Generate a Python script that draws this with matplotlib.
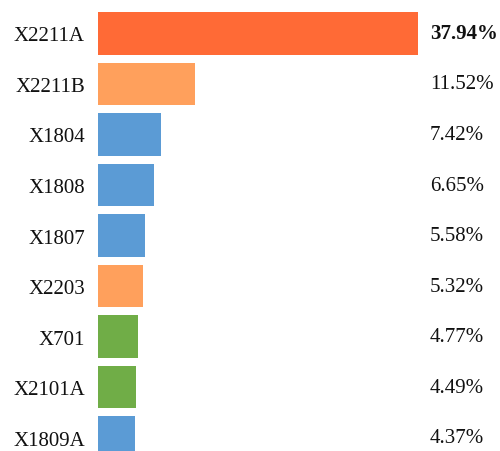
import matplotlib.pyplot as plt
from matplotlib.transforms import blended_transform_factory

names = ['X2211A', 'X2211B', 'X1804', 'X1808', 'X1807', 'X2203', 'X701', 'X2101A', 'X1809A']
shares = [37.94, 11.52, 7.42, 6.65, 5.58, 5.32, 4.77, 4.49, 4.37]
colors = ['#FF6A36', '#FFA05C', '#5B9BD5', '#5B9BD5', '#5B9BD5',
          '#FFA05C', '#70AD47', '#70AD47', '#5B9BD5']

plt.rcParams['font.family'] = ['Liberation Serif', 'DejaVu Serif']

fig = plt.figure(figsize=(5, 4.52), dpi=100)
ax = fig.add_axes([98 / 500, 0, 402 / 500, 1])

y = list(range(len(names)))
ax.barh(y, shares, height=0.85, color=colors)
ax.set_xlim(0, 402 / 8.43)
ax.set_ylim(8.267, -0.683)

ax.set_yticks(y)
ax.set_yticklabels(names, fontsize=15, color='#111111')
ax.tick_params(axis='y', length=0, pad=9.5)
ax.set_xticks([])
for s in ax.spines.values():
    s.set_visible(False)

trans = blended_transform_factory(ax.transAxes, ax.transData)
for i, v in enumerate(shares):
    ax.text(332 / 402, i, '{:.2f}%'.format(v), transform=trans,
            ha='left', va='center', fontsize=15, color='#111111',
            fontweight='bold' if i == 0 else 'normal')

fig.savefig('out.png', dpi=100)
